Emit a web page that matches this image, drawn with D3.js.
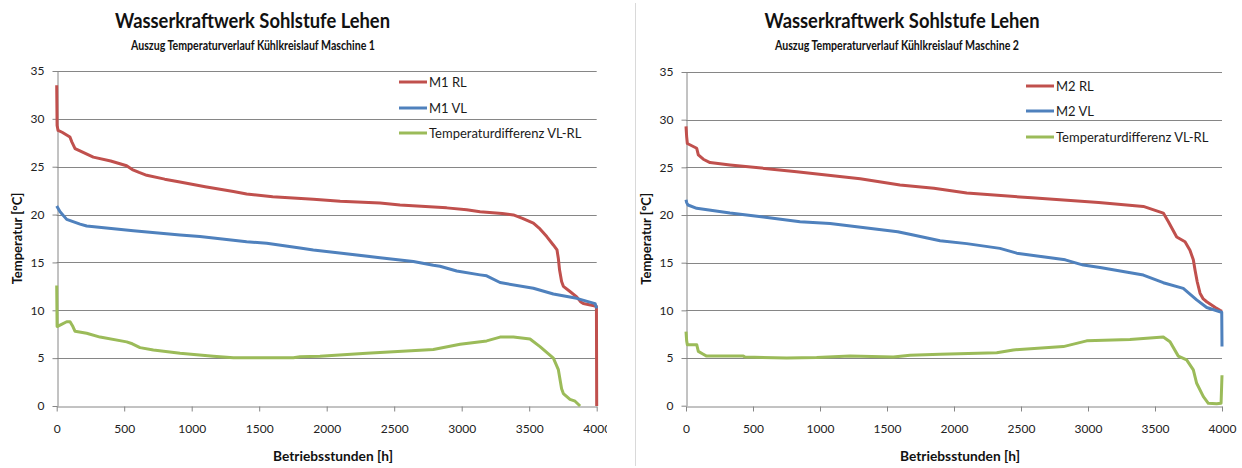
<!DOCTYPE html>
<html><head><meta charset="utf-8">
<script src="https://cdn.jsdelivr.net/npm/d3@7"></script>
<style>
html,body{margin:0;padding:0;background:#fff;}
svg{display:block;font-family:Lato, "Open Sans", sans-serif;}
</style></head>
<body>
<svg id="c" width="1242" height="468"></svg>
<script>
// ---------- data ----------
const xTicks = [0,500,1000,1500,2000,2500,3000,3500,4000];
const yTicks = [0,5,10,15,20,25,30,35];
const chartTitle = "Wasserkraftwerk Sohlstufe Lehen";
const subtitles = ["Auszug Temperaturverlauf Kühlkreislauf Maschine 1","Auszug Temperaturverlauf Kühlkreislauf Maschine 2"];
const xTitle = "Betriebsstunden [h]";
const yTitle = "Temperatur [°C]";
const legend1 = ["M1 RL","M1 VL","Temperaturdifferenz VL-RL"];
const legend2 = ["M2 RL","M2 VL","Temperaturdifferenz VL-RL"];

// Maschine 1 [Betriebsstunden, °C]
const m1RL = [[0,33.5],[3,29.3],[10,28.8],[40,28.6],[98,28.1],[112,27.6],[136,26.9],[180,26.6],[271,26.0],[400,25.6],[518,25.1],[560,24.7],[610,24.4],[667,24.1],[800,23.7],[913,23.4],[1100,22.9],[1309,22.4],[1407,22.15],[1600,21.85],[1901,21.6],[2100,21.4],[2395,21.2],[2543,21.0],[2889,20.7],[3037,20.5],[3136,20.3],[3300,20.1],[3383,19.96],[3450,19.6],[3531,19.1],[3580,18.5],[3630,17.7],[3680,16.8],[3706,16.3],[3716,15.4],[3725,14.2],[3740,13.0],[3753,12.5],[3802,11.96],[3852,11.4],[3880,10.9],[3901,10.7],[3988,10.45],[3998,10.4],[4000,0]];
const m1VL = [[0,20.9],[25,20.3],[74,19.5],[173,19.0],[222,18.8],[568,18.3],[914,17.87],[1061,17.7],[1407,17.17],[1556,17.0],[1802,16.5],[1901,16.3],[2395,15.5],[2642,15.1],[2790,14.7],[2839,14.6],[2963,14.1],[3136,13.7],[3185,13.6],[3284,12.9],[3531,12.3],[3679,11.7],[3852,11.25],[3988,10.7],[4000,10.2]];
const m1Diff = [[0,12.6],[3,8.3],[25,8.45],[74,8.8],[99,8.8],[120,8.3],[136,7.8],[222,7.6],[321,7.2],[518,6.7],[560,6.5],[617,6.1],[716,5.85],[914,5.5],[1160,5.2],[1309,5.05],[1753,5.05],[1802,5.15],[1950,5.2],[2296,5.5],[2790,5.9],[2988,6.45],[3185,6.8],[3284,7.2],[3383,7.2],[3506,7.0],[3580,6.2],[3679,5.0],[3716,3.8],[3740,1.8],[3753,1.3],[3802,0.7],[3840,0.5],[3877,0]];

// Maschine 2 [Betriebsstunden, °C]
const m2RL = [[0,29.3],[5,28.2],[10,27.5],[80,27.0],[92,26.3],[129,25.85],[179,25.5],[328,25.25],[826,24.55],[1300,23.8],[1597,23.15],[1850,22.8],[2095,22.3],[2580,21.8],[3080,21.3],[3413,20.9],[3562,20.2],[3600,19.3],[3662,17.7],[3724,17.2],[3761,16.3],[3786,15.3],[3799,14.2],[3815,13.0],[3836,11.8],[3860,11.2],[3886,10.9],[3950,10.3],[3985,10.0],[4000,9.9]];
const m2VL = [[0,21.6],[5,21.3],[15,21.05],[80,20.7],[328,20.2],[577,19.8],[851,19.3],[1075,19.1],[1580,18.25],[1696,17.9],[1896,17.3],[2095,17.0],[2343,16.5],[2468,16.0],[2830,15.3],[2965,14.75],[3015,14.65],[3090,14.5],[3413,13.7],[3562,12.9],[3711,12.3],[3811,11.1],[3886,10.3],[3985,9.85],[3998,9.8],[4000,6.2]];
const m2Diff = [[0,7.76],[5,6.8],[10,6.4],[80,6.4],[92,5.7],[129,5.4],[154,5.2],[428,5.2],[440,5.1],[751,5.0],[975,5.05],[1224,5.2],[1547,5.1],[1672,5.3],[1896,5.4],[2319,5.55],[2443,5.85],[2816,6.2],[2990,6.8],[3313,6.95],[3562,7.2],[3612,6.7],[3674,5.2],[3736,4.8],[3786,3.75],[3811,2.35],[3861,0.95],[3898,0.25],[3960,0.2],[3993,0.25],[4000,3.2]];

// ---------- drawing ----------
const colors = ["#C0504D","#4F81BD","#9BBB59"];
const gridColor = "#868686";
const svg = d3.select("#c");

// separator between the two charts
svg.append("line").attr("x1",635.5).attr("x2",635.5).attr("y1",3).attr("y2",466)
  .attr("stroke","#d9d9d9").attr("stroke-width",1);

function drawChart(cfg){
  const clipId = "clip"+cfg.id;
  svg.append("clipPath").attr("id",clipId).append("rect")
    .attr("x",cfg.clip[0]).attr("y",0).attr("width",cfg.clip[1]-cfg.clip[0]).attr("height",468);
  const g = svg.append("g").attr("clip-path",`url(#${clipId})`);
  const x = d3.scaleLinear().domain([0,4000]).range([cfg.x0,cfg.x1]);
  const y = d3.scaleLinear().domain([0,35]).range([cfg.yb,cfg.yt]);

  // gridlines
  g.append("g").selectAll("line").data(yTicks.filter(d=>d>0)).join("line")
    .attr("x1",cfg.x0).attr("x2",cfg.x1)
    .attr("y1",d=>Math.round(y(d))+0.5).attr("y2",d=>Math.round(y(d))+0.5)
    .attr("stroke",gridColor).attr("stroke-width",1);

  // y axis
  const ya = g.append("g").attr("transform",`translate(${Math.round(cfg.x0)+0.5},0)`)
    .call(d3.axisLeft(y).tickValues(yTicks).tickSize(5).tickPadding(8).tickSizeOuter(0));
  ya.select(".domain").attr("stroke",gridColor);
  ya.selectAll(".tick line").attr("stroke",gridColor);
  ya.selectAll("text").attr("font-size",12).attr("fill","#222").attr("font-family","Lato");

  // x axis
  const xa = g.append("g").attr("transform",`translate(0,${Math.round(cfg.yb)+0.5})`)
    .call(d3.axisBottom(x).tickValues(xTicks).tickSize(5).tickPadding(13).tickSizeOuter(0).tickFormat(d3.format("d")));
  xa.select(".domain").attr("stroke",gridColor);
  xa.selectAll(".tick line").attr("stroke",gridColor);
  xa.selectAll("text").attr("font-size",12).attr("fill","#222").attr("font-family","Lato");

  // series
  const line = d3.line().x(d=>x(d[0])).y(d=>y(d[1]));
  cfg.series.forEach((s,i)=>{
    g.append("path").datum(s).attr("d",line).attr("fill","none")
      .attr("stroke",colors[i]).attr("stroke-width",3).attr("stroke-linejoin","round");
  });

  // legend
  cfg.legend.forEach((t,i)=>{
    const ly = cfg.legendY[i];
    g.append("line").attr("x1",cfg.legendX).attr("x2",cfg.legendX+28)
      .attr("y1",ly).attr("y2",ly).attr("stroke",colors[i]).attr("stroke-width",3);
    g.append("text").attr("x",cfg.legendX+30).attr("y",ly).attr("dy","0.35em")
      .attr("font-size",13).attr("fill","#1a1a1a").text(t);
  });

  // titles
  g.append("text").attr("x",cfg.titleX).attr("y",28).attr("text-anchor","middle")
    .attr("font-size",21).attr("font-weight","bold").attr("fill","#111")
    .attr("textLength",275).attr("lengthAdjust","spacingAndGlyphs").text(chartTitle);
  g.append("text").attr("x",cfg.subX).attr("y",50).attr("text-anchor","middle")
    .attr("font-size",14).attr("font-weight","bold").attr("fill","#111")
    .attr("textLength",244).attr("lengthAdjust","spacingAndGlyphs").text(cfg.subtitle);
  g.append("text").attr("x",cfg.xTitleX).attr("y",461).attr("text-anchor","middle")
    .attr("font-size",13).attr("font-weight","bold").attr("fill","#111")
    .attr("textLength",120).attr("lengthAdjust","spacingAndGlyphs").text(xTitle);
  g.append("text").attr("transform",`translate(${cfg.yTitleX},${(cfg.yt+cfg.yb)/2}) rotate(-90)`)
    .attr("text-anchor","middle").attr("dy","0.35em")
    .attr("font-size",13).attr("font-weight","bold").attr("fill","#111").text(yTitle);
}

drawChart({id:1, clip:[0,607], x0:56.7, x1:596.7, yt:71, yb:406,
  titleX:252.5, subX:253, xTitleX:333, yTitleX:17.5,
  legendX:399, legendY:[82,108,133], legend:legend1, subtitle:subtitles[0],
  series:[m1RL,m1VL,m1Diff]});
drawChart({id:2, clip:[637,1242], x0:686, x1:1222, yt:72, yb:405.7,
  titleX:902, subX:897, xTitleX:960, yTitleX:646,
  legendX:1026, legendY:[86,111,137], legend:legend2, subtitle:subtitles[1],
  series:[m2RL,m2VL,m2Diff]});
</script>
</body></html>
